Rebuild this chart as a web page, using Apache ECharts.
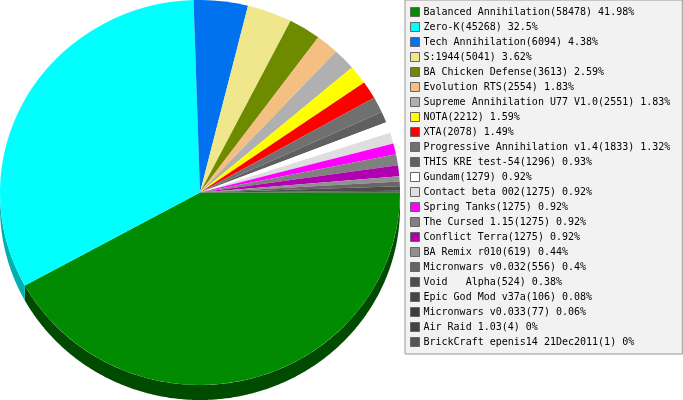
<!DOCTYPE html>
<html><head><meta charset="utf-8">
<script src="https://cdn.jsdelivr.net/npm/echarts@6/dist/echarts.min.js"></script>
<style>html,body{margin:0;padding:0;background:#fff}#c{width:683px;height:400px}</style>
</head><body><div id="c"></div>
<script>
const names = ['Balanced Annihilation','Zero-K','Tech Annihilation','S:1944','BA Chicken Defense','Evolution RTS','Supreme Annihilation U77 V1.0','NOTA','XTA','Progressive Annihilation v1.4','THIS KRE test-54','Gundam','Contact beta 002','Spring Tanks','The Cursed 1.15','Conflict Terra','BA Remix r010','Micronwars v0.032','Void   Alpha','Epic God Mod v37a','Micronwars v0.033','Air Raid 1.03','BrickCraft epenis14 21Dec2011'];
const values = [58478,45268,6094,5041,3613,2554,2551,2212,2078,1833,1296,1279,1275,1275,1275,1275,619,556,524,106,77,4,1];
const percents = ['41.98','32.5','4.38','3.62','2.59','1.83','1.83','1.59','1.49','1.32','0.93','0.92','0.92','0.92','0.92','0.92','0.44','0.4','0.38','0.08','0.06','0','0'];
const colors = ['#008b00','#00ffff','#0072f0','#f0e68c','#6e8b00','#f4bf80','#b0b0b0','#ffff00','#ff0000','#707070','#606060','#ffffff','#dedede','#ff00ff','#808080','#b000b0','#909090','#666666','#4d4d4d','#454545','#3d3d3d','#444444','#555555'];
const sideColors = ['#004b00','#00b0b0'];

const CX = 200, CY = 192.5, RX = 200, RY = 192.5, DEPTH = 15;
const total = values.reduce((a, b) => a + b, 0);
const labelOf = {};
names.forEach((n, i) => { labelOf[n] = n + '(' + values[i] + ') ' + percents[i] + '%'; });

function sideItem(params, api) {
  const i = params.dataIndex;
  let before = 0;
  for (let k = 0; k < i; k++) before += values[k];
  const a0 = before / total * 360;
  const a1 = Math.min((before + api.value(0)) / total * 360, 180);
  if (a0 >= a1) return null;
  const top = [], bottom = [];
  for (let a = a0; ; a += 0.5) {
    const t = Math.min(a, a1) * Math.PI / 180;
    const x = CX + RX * Math.cos(t), y = CY + RY * Math.sin(t);
    top.push([x, y]);
    bottom.unshift([x, y + DEPTH]);
    if (a >= a1) break;
  }
  return { type: 'polygon', shape: { points: top.concat(bottom) }, style: { fill: sideColors[i] } };
}

const chart = echarts.init(document.getElementById('c'), null, { renderer: 'canvas' });
chart.setOption({
  animation: false,
  backgroundColor: '#ffffff',
  legend: {
    orient: 'vertical', left: 405, top: 0,
    padding: [6, 12, 6, 5],
    backgroundColor: '#f2f2f2', borderColor: '#999999', borderWidth: 1,
    itemWidth: 9, itemHeight: 9, itemGap: 3, icon: 'rect',
    itemStyle: { borderColor: '#666666', borderWidth: 1 },
    textStyle: { fontFamily: '"DejaVu Sans Mono"', fontSize: 10, color: '#000', lineHeight: 12, padding: [0, 0, 0, -1] },
    data: names,
    formatter: n => labelOf[n]
  },
  series: [
    { type: 'custom', coordinateSystem: 'none', silent: true, z: 1,
      data: values.slice(0, sideColors.length), renderItem: sideItem },
    { type: 'pie', z: 2, center: [CX, CY], radius: RX, startAngle: 0, clockwise: true,
      animation: false, silent: true, label: { show: false }, labelLine: { show: false },
      emphasis: { disabled: true }, itemStyle: { borderWidth: 0 },
      data: names.map((n, i) => ({ name: n, value: values[i], itemStyle: { color: colors[i] } })) }
  ]
});
// The original pie is slightly flattened: squash the pie's sectors vertically about its centre.
const zr = chart.getZr();
zr.storage.getDisplayList(true).forEach(el => {
  if (el.type === 'sector') { el.scaleY = RY / RX; el.originY = CY; el.markRedraw(); }
});
zr.refresh();
</script></body></html>
